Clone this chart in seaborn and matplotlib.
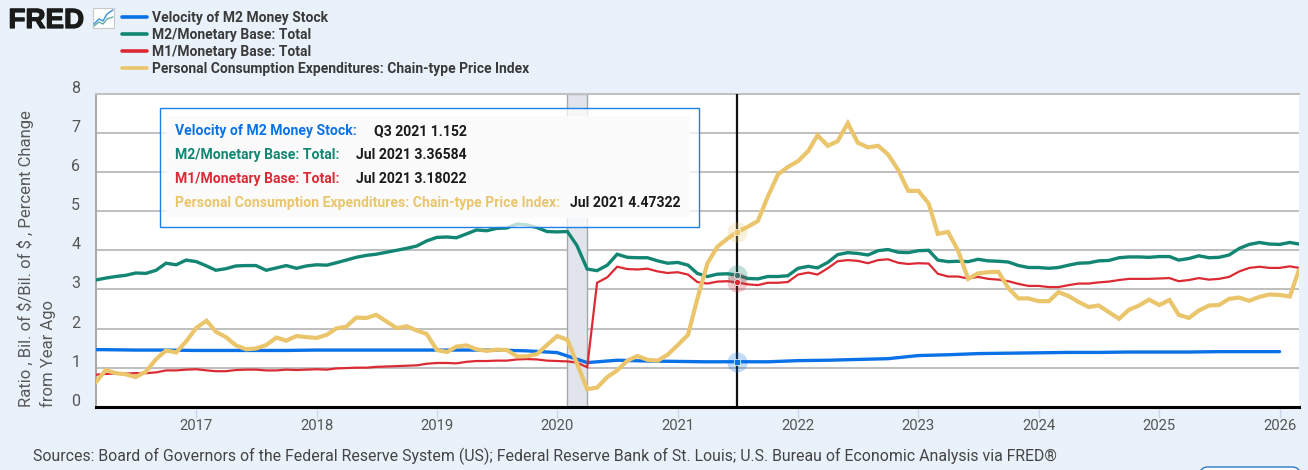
import numpy as np
import pandas as pd
import matplotlib
matplotlib.use("Agg")
import matplotlib.pyplot as plt
import matplotlib.dates as mdates
import matplotlib.patheffects as pe
from matplotlib.patches import Rectangle, FancyBboxPatch
from matplotlib.lines import Line2D
from matplotlib.transforms import ScaledTranslation
import seaborn as sns

pce = [0.62,0.94,0.86,0.83,0.76,0.90,1.22,1.44,1.39,1.67,
       2.02,2.20,1.92,1.78,1.57,1.47,1.49,1.58,1.77,1.69,1.81,1.78,
       1.76,1.84,2.00,2.05,2.28,2.27,2.35,2.18,2.01,2.06,1.95,1.86,
       1.45,1.40,1.54,1.57,1.47,1.43,1.46,1.45,1.29,1.29,1.35,1.58,
       1.81,1.71,1.11,0.45,0.49,0.76,0.93,1.18,1.30,1.20,1.18,1.33,
       1.58,1.84,2.75,3.67,4.09,4.30,4.47,4.60,4.75,5.37,5.94,6.13,
       6.28,6.54,6.94,6.67,6.79,7.25,6.75,6.63,6.67,6.45,6.05,5.52,
       5.52,5.20,4.42,4.47,4.00,3.27,3.41,3.44,3.45,3.03,2.77,2.77,
       2.70,2.70,2.93,2.83,2.68,2.55,2.59,2.42,2.25,2.48,2.59,2.74,
       2.60,2.73,2.35,2.27,2.46,2.59,2.60,2.76,2.79,2.71,2.81,2.87,
       2.86,2.82,3.50]
m2mb = [3.24,3.29,3.33,3.36,3.42,3.41,3.49,3.67,3.63,3.75,
        3.71,3.60,3.49,3.53,3.60,3.61,3.61,3.49,3.55,3.61,3.54,3.60,
        3.63,3.62,3.68,3.75,3.82,3.87,3.90,3.95,4.00,4.05,4.11,4.24,
        4.33,4.34,4.32,4.42,4.52,4.50,4.56,4.57,4.67,4.65,4.58,4.48,
        4.47,4.48,4.12,3.52,3.48,3.62,3.90,3.82,3.81,3.81,3.73,3.67,
        3.69,3.62,3.41,3.33,3.39,3.40,3.366,3.28,3.27,3.33,3.33,3.35,
        3.54,3.59,3.55,3.69,3.89,3.94,3.92,3.88,3.99,4.02,3.95,3.94,
        3.99,4.00,3.75,3.71,3.72,3.71,3.77,3.73,3.72,3.70,3.61,3.56,
        3.56,3.54,3.56,3.62,3.67,3.68,3.73,3.74,3.81,3.83,3.83,3.82,
        3.84,3.84,3.75,3.79,3.86,3.81,3.82,3.88,4.05,4.15,4.20,4.16,
        4.15,4.20,4.16]
m1mb = [0.82,0.84,0.85,0.85,0.86,0.86,0.88,0.93,0.93,0.95,
        0.96,0.93,0.91,0.91,0.94,0.95,0.95,0.93,0.93,0.95,0.94,0.95,
        0.96,0.95,0.98,0.99,1.00,1.00,1.02,1.03,1.04,1.05,1.06,1.10,
        1.12,1.12,1.11,1.15,1.17,1.17,1.18,1.18,1.21,1.22,1.21,1.18,
        1.17,1.16,1.13,1.01,3.17,3.31,3.58,3.52,3.51,3.53,3.46,3.42,
        3.44,3.38,3.19,3.15,3.20,3.21,3.18,3.13,3.11,3.17,3.17,3.19,
        3.38,3.43,3.38,3.54,3.72,3.75,3.73,3.67,3.75,3.77,3.68,3.65,
        3.67,3.66,3.40,3.33,3.33,3.28,3.32,3.27,3.25,3.21,3.14,3.09,
        3.09,3.06,3.06,3.11,3.15,3.15,3.18,3.20,3.24,3.27,3.27,3.27,
        3.28,3.29,3.21,3.24,3.29,3.25,3.27,3.32,3.46,3.55,3.58,3.55,
        3.55,3.59,3.55]
velocity = [1.46,1.46,1.45,1.45,1.44,1.44,1.44,1.44,1.45,1.45,1.45,1.45,
            1.45,1.45,1.45,1.43,1.385,1.13,1.19,1.17,1.16,1.15,1.152,1.15,
            1.18,1.19,1.21,1.23,1.31,1.33,1.36,1.37,1.38,1.39,1.39,1.40,
            1.40,1.40,1.41,1.41,1.41]

series_names = ["Velocity of M2 Money Stock", "M2/Monetary Base: Total",
                "M1/Monetary Base: Total",
                "Personal Consumption Expenditures: Chain-type Price Index"]
series_colors = ["#0a72e6", "#128573", "#dc2a35", "#eac56c"]
series_widths = [2.4, 2.4, 1.6, 3.0]
y_ticks = [0, 1, 2, 3, 4, 5, 6, 7, 8]
x_years = list(range(2017, 2027))
y_label = "Ratio , Bil. of \\$/Bil. of \\$ , Percent Change\nfrom Year Ago"
source = ("Sources: Board of Governors of the Federal Reserve System (US); Federal Reserve Bank of "
          "St. Louis; U.S. Bureau of Economic Analysis via FRED®")
tip_labels = ["Velocity of M2 Money Stock:", "M2/Monetary Base: Total:", "M1/Monetary Base: Total:",
              "Personal Consumption Expenditures: Chain-type Price Index:"]
tip_values = ["Q3 2021 1.152", "Jul 2021 3.36584", "Jul 2021 3.18022", "Jul 2021 4.47322"]
hover_values = [1.152, 3.36584, 3.18022, 4.47322]
hover_date = pd.Timestamp("2021-07-01")
recession = (pd.Timestamp("2020-02-01"), pd.Timestamp("2020-04-01"))

monthly = pd.date_range("2016-03-01", periods=len(pce), freq="MS")
quarterly = pd.date_range("2016-01-01", periods=len(velocity), freq="QS")
frames = [pd.DataFrame({"date": quarterly, "value": velocity}),
          pd.DataFrame({"date": monthly, "value": m2mb}),
          pd.DataFrame({"date": monthly, "value": m1mb}),
          pd.DataFrame({"date": monthly, "value": pce})]

sns.set_theme(style="white")
plt.rcParams["font.family"] = ["Roboto", "DejaVu Sans"]
BG = "#e9f2fa"
W, H = 1308, 470
fig = plt.figure(figsize=(W / 100, H / 100), dpi=100, facecolor=BG)
ax = fig.add_axes([95.5 / W, 1 - 406.8 / H, (1299 - 95.5) / W, (406.8 - 93.8) / H], facecolor="white")

def fx(x): return x / W
def fy(y): return 1 - y / H

ax.axvspan(*recession, facecolor="#e1e5eb", edgecolor="#a8a8a8", lw=1, zorder=1)
ax.set_yticks(y_ticks)
ax.grid(axis="y", color="#c0c0c0", lw=1.45, zorder=1)
ax.set_axisbelow(True)

for i in range(4):
    sns.lineplot(data=frames[i], x="date", y="value", color=series_colors[i], lw=series_widths[i],
                 ax=ax, zorder=3 + i, errorbar=None, solid_joinstyle="miter", sort=False)

ax.axvline(hover_date, color="#111111", lw=1.6, zorder=8)
for i, v in enumerate(hover_values):
    ax.plot([hover_date], [v], "o", ms=14.5, color=series_colors[i], alpha=0.25, mew=0, zorder=9)
    ax.plot([hover_date], [v], "s" if i in (0, 3) else "o", ms=4.5,
            color=series_colors[i] if i != 1 else "#3d6f68", mec="white", mew=0.5, zorder=10)

ax.set_xlim(pd.Timestamp("2016-03-01"), pd.Timestamp("2026-03-01"))
ax.set_ylim(0, 8)
ax.set_xlabel("")
ax.set_ylabel(y_label, loc="bottom", fontsize=12, color="#585858", labelpad=10.6, linespacing=1.45)

ax.set_xticks([pd.Timestamp(f"{y}-01-01") for y in x_years])
ax.xaxis.set_major_formatter(mdates.DateFormatter("%Y"))
ax.tick_params(axis="x", length=8, width=1, color="#ccd6eb", labelsize=10.7, labelcolor="#555555",
               pad=0.5, bottom=True)
ax.tick_params(axis="y", length=0, labelsize=11.5, labelcolor="#555555", pad=11)
shift = ScaledTranslation(0, 7 / 100, fig.dpi_scale_trans)
for lab in ax.get_yticklabels():
    lab.set_transform(lab.get_transform() + shift)

for s in ax.spines.values():
    s.set_visible(True)
ax.spines["left"].set_color("#a9a9a9"); ax.spines["left"].set_linewidth(1.45)
ax.spines["top"].set_color("#c0c0c0"); ax.spines["top"].set_linewidth(1.45)
ax.spines["right"].set_visible(False)
ax.spines["bottom"].set_color("black"); ax.spines["bottom"].set_linewidth(2.2)
ax.spines["bottom"].set_zorder(12)

# legend
handles = [Line2D([], [], color=c, lw=2.6) for c in series_colors]
fig.legend(handles, series_names, loc="upper left", bbox_to_anchor=(fx(109), fy(-2)), frameon=False,
           labelcolor="#3a3a3a", handlelength=1.8, handletextpad=0.36,
           labelspacing=0.22, borderpad=0.4, prop={"family": "Roboto", "weight": "bold", "size": 10})

# tooltip
fig.add_artist(Rectangle((fx(160), fy(227)), fx(699) - fx(160), fy(108) - fy(227), transform=fig.transFigure,
                         facecolor=(1, 1, 1, 0.72), edgecolor="#1f7fe8", lw=1.0, zorder=20))
fig.add_artist(Rectangle((fx(167), fy(218)), fx(690) - fx(167), fy(116) - fy(218), transform=fig.transFigure,
                         facecolor="#fbfbfb", edgecolor="none", zorder=21))
tip_y = [131, 155, 179, 203]
tip_val_x = [374, 356, 356, 570]
for i in range(4):
    fig.text(fx(175), fy(tip_y[i]), tip_labels[i], color=series_colors[i], fontsize=10.1, weight="bold",
             va="center", ha="left", zorder=22)
    fig.text(fx(tip_val_x[i]), fy(tip_y[i]), tip_values[i], color="#1a1a1a", fontsize=10.1, weight="bold",
             va="center", ha="left", zorder=22)

# logo
fig.text(fx(8.5), fy(28), "FRED", fontsize=20, weight="bold", color="#1a1a1a", va="baseline", ha="left",
         family="Liberation Sans",
         path_effects=[pe.withStroke(linewidth=0.9, foreground="#1a1a1a")])
fig.add_artist(Rectangle((fx(93), fy(28)), fx(21), fy(8) - fy(28), transform=fig.transFigure,
                         facecolor="white", edgecolor="#c8c8c8", lw=0.8))
fig.add_artist(Line2D([fx(94), fx(99), fx(103), fx(107), fx(113)], [fy(24), fy(19), fy(21), fy(14), fy(10)],
                      transform=fig.transFigure, color="#3b8fe0", lw=1.0))
fig.add_artist(Line2D([fx(94), fx(99), fx(103), fx(107), fx(113)], [fy(26), fy(22), fy(24), fy(19), fy(17)],
                      transform=fig.transFigure, color="#5fb0a0", lw=1.0))

# sources and bottom-right button edge
fig.text(fx(33), fy(456), source, fontsize=11.45, color="#444444", va="center", ha="left")
fig.add_artist(FancyBboxPatch((fx(1200), fy(490)), fx(100), fy(467) - fy(490),
                              boxstyle="round,pad=0,rounding_size=0.006", transform=fig.transFigure,
                              facecolor="white", edgecolor="#2f77c8", lw=1.0, mutation_aspect=2.8))

fig.savefig("out.png", dpi=100, facecolor=BG)
